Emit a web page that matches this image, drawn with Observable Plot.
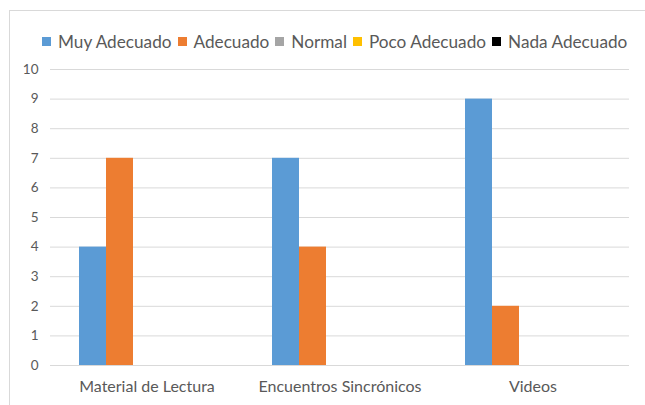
<!DOCTYPE html>
<html>
<head>
<meta charset="utf-8">
<script src="https://cdn.jsdelivr.net/npm/d3@7"></script>
<script src="https://cdn.jsdelivr.net/npm/@observablehq/plot@0.6"></script>
<style>
  html, body { margin: 0; padding: 0; background: #fff; }
  #wrap { position: relative; width: 645px; height: 405px; overflow: hidden; font-family: Lato, "Open Sans", sans-serif; }
  #frame { position: absolute; left: 9px; top: 10px; width: 700px; height: 500px; border: 1px solid #d9d9d9; box-sizing: border-box; }
  #legend { position: absolute; left: 42px; top: 31px; display: flex; gap: 6px; font-size: 17.2px; color: #595959; white-space: nowrap; }
  #legend span.item { display: flex; align-items: center; gap: 7px; }
  #legend i { display: inline-block; width: 9px; height: 9px; }
  #chart { position: absolute; left: 0; top: 0; }
</style>
</head>
<body>
<div id="wrap">
  <div id="frame"></div>
  <div id="chart"></div>
  <div id="legend"></div>
</div>
<script>
const categories = ["Material de Lectura", "Encuentros Sincrónicos", "Videos"];
const seriesNames = ["Muy Adecuado", "Adecuado", "Normal", "Poco Adecuado", "Nada Adecuado"];
const seriesColors = ["#5b9bd5", "#ed7d31", "#a5a5a5", "#ffc000", "#000000"];
const muyAdecuado = [4, 7, 9];
const adecuado = [7, 4, 2];
const normal = [0, 0, 0];
const pocoAdecuado = [0, 0, 0];
const nadaAdecuado = [0, 0, 0];
const yTicks = [0, 1, 2, 3, 4, 5, 6, 7, 8, 9, 10];

const seriesValues = [muyAdecuado, adecuado, normal, pocoAdecuado, nadaAdecuado];
const data = [];
categories.forEach((c, ci) => {
  seriesNames.forEach((s, si) => {
    data.push({category: c, series: s, value: seriesValues[si][ci]});
  });
});

const plot = Plot.plot({
  width: 645,
  height: 405,
  marginLeft: 49,
  marginRight: 15,
  marginTop: 69,
  marginBottom: 40,
  style: {fontFamily: 'Lato, "Open Sans", sans-serif', background: "transparent", color: "#595959"},
  fx: {domain: categories, padding: 0, label: null, axis: null},
  x: {domain: seriesNames, paddingInner: 0, paddingOuter: 1.02, axis: null},
  y: {domain: [0, 10], axis: null},
  color: {domain: seriesNames, range: seriesColors},
  marks: [
    Plot.ruleY(yTicks, {stroke: "#d9d9d9", strokeWidth: 1}),
    Plot.barY(data, {fx: "category", x: "series", y: "value", fill: "series"}),
    Plot.axisY({ticks: yTicks, tickSize: 0, tickPadding: 12, fontSize: 13.5, fill: "#595959", label: null}),
    Plot.axisFx({anchor: "bottom", tickSize: 0, tickPadding: 15, fontSize: 16, fill: "#595959", label: null})
  ]
});
document.getElementById("chart").appendChild(plot);

const legend = document.getElementById("legend");
seriesNames.forEach((s, i) => {
  const item = document.createElement("span");
  item.className = "item";
  const sw = document.createElement("i");
  sw.style.background = seriesColors[i];
  item.appendChild(sw);
  item.appendChild(document.createTextNode(s));
  legend.appendChild(item);
});
</script>
</body>
</html>
